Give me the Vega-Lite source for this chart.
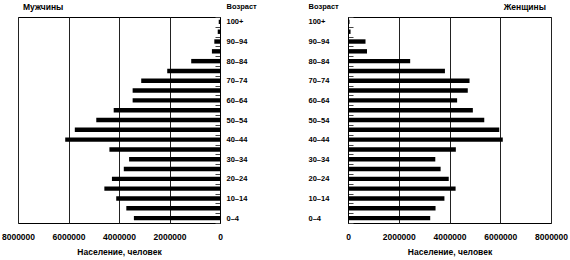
{
  "$schema": "https://vega.github.io/schema/vega-lite/v6.json",
  "padding": {"left": 0, "top": 2, "right": 0, "bottom": 0},
  "spacing": 128,
  "bounds": "flush",
  "config": {
    "font": "Liberation Sans",
    "view": {"stroke": "black", "strokeWidth": 1},
    "axis": {"labelFont": "Liberation Sans", "titleFont": "Liberation Sans", "labelFontWeight": "bold", "titleFontWeight": "bold", "labelColor": "black", "titleColor": "black"}
  },
  "data": {"values": [
    {"age": "0–4", "male": 3410000, "female": 3240000},
    {"age": "5–9", "male": 3710000, "female": 3450000},
    {"age": "10–14", "male": 4110000, "female": 3800000},
    {"age": "15–19", "male": 4580000, "female": 4240000},
    {"age": "20–24", "male": 4280000, "female": 3970000},
    {"age": "25–29", "male": 3810000, "female": 3650000},
    {"age": "30–34", "male": 3600000, "female": 3440000},
    {"age": "35–39", "male": 4380000, "female": 4250000},
    {"age": "40–44", "male": 6130000, "female": 6100000},
    {"age": "45–49", "male": 5750000, "female": 5960000},
    {"age": "50–54", "male": 4900000, "female": 5370000},
    {"age": "55–59", "male": 4210000, "female": 4920000},
    {"age": "60–64", "male": 3460000, "female": 4300000},
    {"age": "65–69", "male": 3460000, "female": 4720000},
    {"age": "70–74", "male": 3120000, "female": 4790000},
    {"age": "75–79", "male": 2090000, "female": 3820000},
    {"age": "80–84", "male": 1140000, "female": 2450000},
    {"age": "85–89", "male": 320000, "female": 750000},
    {"age": "90–94", "male": 225000, "female": 690000},
    {"age": "95–99", "male": 90000, "female": 100000},
    {"age": "100+", "male": 50000, "female": 60000}
  ]},
  "hconcat": [
    {
      "width": 202,
      "height": 206,
      "title": {"text": "Мужчины", "anchor": "start", "frame": "group", "dx": 5, "offset": -16, "baseline": "alphabetic", "fontSize": 8.5, "fontWeight": "bold", "font": "Liberation Sans", "color": "black"},
      "mark": {"type": "bar", "color": "black", "height": {"band": 0.45}},
      "encoding": {
        "y": {
          "field": "age", "type": "ordinal",
          "sort": ["100+", "95–99", "90–94", "85–89", "80–84", "75–79", "70–74", "65–69", "60–64", "55–59", "50–54", "45–49", "40–44", "35–39", "30–34", "25–29", "20–24", "15–19", "10–14", "5–9", "0–4"],
          "scale": {"paddingInner": 0, "paddingOuter": 0},
          "axis": {
            "orient": "right", "title": "Возраст", "titleAngle": 0, "titleAlign": "left", "titleBaseline": "middle", "titleX": 6, "titleY": -10.5, "titleFontSize": 7.5,
            "labelAlign": "left", "labelBaseline": "middle", "labelPadding": 11, "labelFontSize": 7.5,
            "tickSize": -5, "tickBand": "extent", "tickColor": "#444", "domainColor": "black",
            "labelExpr": "indexof(['0–4','10–14','20–24','30–34','40–44','50–54','60–64','70–74','80–84','90–94','100+'], datum.value) >= 0 ? datum.value : ''"
          }
        },
        "x": {
          "field": "male", "type": "quantitative",
          "scale": {"domain": [0, 8000000], "reverse": true, "nice": false},
          "axis": {"values": [0, 2000000, 4000000, 6000000, 8000000], "format": "d", "grid": true, "gridColor": "#222", "ticks": false, "tickSize": 0, "domain": false, "labelPadding": 9, "labelFontSize": 8.5, "labelFlush": false, "labelOverlap": false, "title": "Население, человек", "titleFontSize": 8.5, "titlePadding": 7}
        }
      }
    },
    {
      "width": 203,
      "height": 206,
      "title": {"text": "Женщины", "anchor": "end", "frame": "group", "dx": -5, "offset": -16, "baseline": "alphabetic", "fontSize": 8.5, "fontWeight": "bold", "font": "Liberation Sans", "color": "black"},
      "mark": {"type": "bar", "color": "black", "height": {"band": 0.45}},
      "encoding": {
        "y": {
          "field": "age", "type": "ordinal",
          "sort": ["100+", "95–99", "90–94", "85–89", "80–84", "75–79", "70–74", "65–69", "60–64", "55–59", "50–54", "45–49", "40–44", "35–39", "30–34", "25–29", "20–24", "15–19", "10–14", "5–9", "0–4"],
          "scale": {"paddingInner": 0, "paddingOuter": 0},
          "axis": {
            "orient": "left", "title": "Возраст", "titleAngle": 0, "titleAlign": "left", "titleBaseline": "middle", "titleX": -40, "titleY": -10.5, "titleFontSize": 7.5,
            "labelAlign": "left", "labelBaseline": "middle", "labelPadding": 45, "labelFontSize": 7.5,
            "tickSize": -5, "tickBand": "extent", "tickColor": "#444", "domainColor": "black",
            "labelExpr": "indexof(['0–4','10–14','20–24','30–34','40–44','50–54','60–64','70–74','80–84','90–94','100+'], datum.value) >= 0 ? datum.value : ''"
          }
        },
        "x": {
          "field": "female", "type": "quantitative",
          "scale": {"domain": [0, 8000000], "nice": false},
          "axis": {"values": [0, 2000000, 4000000, 6000000, 8000000], "format": "d", "grid": true, "gridColor": "#222", "ticks": false, "tickSize": 0, "domain": false, "labelPadding": 9, "labelFontSize": 8.5, "labelFlush": false, "labelOverlap": false, "title": "Население, человек", "titleFontSize": 8.5, "titlePadding": 7}
        }
      }
    }
  ]
}
